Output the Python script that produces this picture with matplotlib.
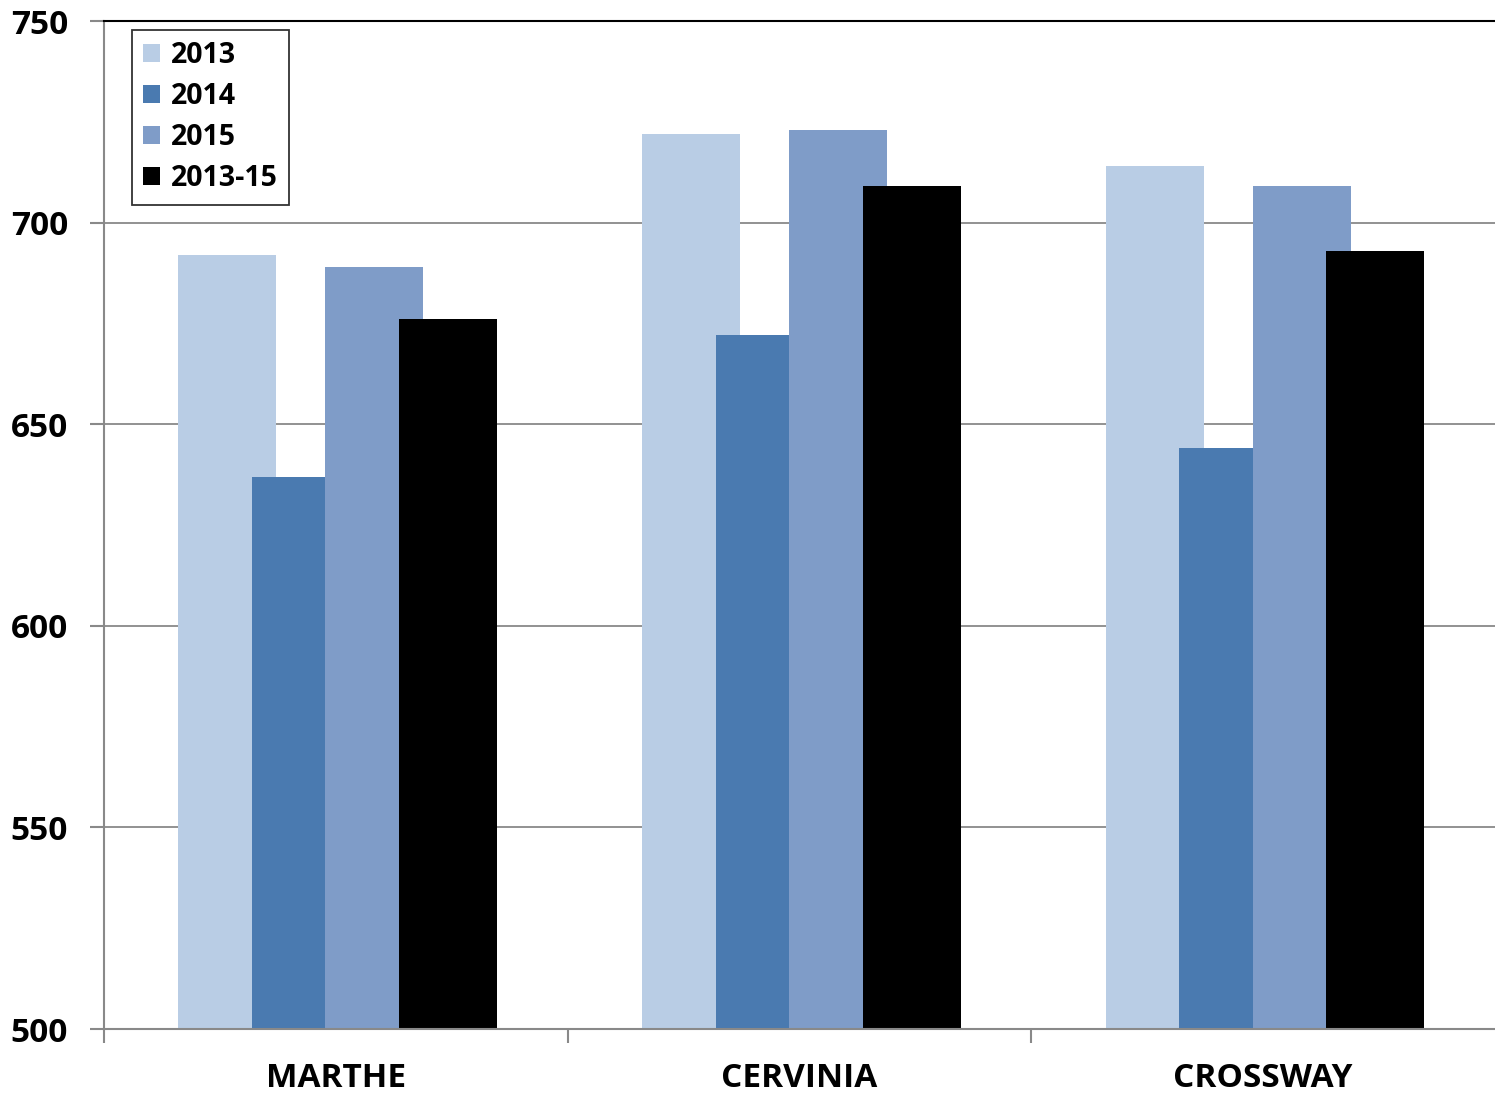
import matplotlib.pyplot as plt
import numpy as np

plt.rcParams['font.family'] = ['Open Sans', 'DejaVu Sans']
plt.rcParams['font.weight'] = 'bold'

# data
sites = ['MARTHE', 'CERVINIA', 'CROSSWAY']
series = ['2013', '2014', '2015', '2013-15']
v2013 = [692, 722, 714]
v2014 = [637, 672, 644]
v2015 = [689, 723, 709]
v2013_15 = [676, 709, 693]
values = [v2013, v2014, v2015, v2013_15]
colors = ['#B9CDE5', '#4A7AB0', '#7F9CC8', '#000000']

fig = plt.figure(figsize=(14.95, 10.93), dpi=100)
ax = fig.add_axes([104/1495, 1 - 1029/1093, 1391/1495, 1008/1093])

x = np.arange(len(sites))
step = 0.1587
width = 0.2113
for j, (vals, c, name) in enumerate(zip(values, colors, series)):
    ax.bar(x + (j - 1.5) * step + 0.004, np.array(vals) - 500, bottom=500, width=width,
           color=c, label=name, zorder=2, linewidth=0)

ax.set_xlim(-0.5, 2.5)
ax.set_ylim(500, 750)
ax.set_yticks([500, 550, 600, 650, 700, 750])
ax.set_yticklabels(['500', '550', '600', '650', '700', '750'], fontweight='bold')
ax.tick_params(axis='y', labelsize=24, length=10, width=1.5, color='#898989', pad=16)
ax.grid(axis='y', color='#898989', linewidth=1.3, zorder=0)

ax.set_xticks([-0.5, 0.5, 1.5])
ax.set_xticklabels([])
ax.set_xticks(x, minor=True)
ax.set_xticklabels(sites, minor=True, fontweight='bold')
ax.tick_params(axis='x', which='major', length=10, width=1.5, color='#898989')
ax.tick_params(axis='x', which='minor', length=0, labelsize=24, pad=24)

for s in ['left', 'bottom']:
    ax.spines[s].set_color('#898989')
    ax.spines[s].set_linewidth(1.5)
ax.spines['right'].set_visible(False)
ax.spines['top'].set_color('black')
ax.spines['top'].set_linewidth(1.5)

leg = ax.legend(loc='upper left', bbox_to_anchor=(28/1391, 1 - 9/1008), borderaxespad=0,
                prop={'size': 20.5, 'weight': 'bold'}, fancybox=False, frameon=True,
                edgecolor='black', handlelength=0.6, handleheight=0.6, handletextpad=0.35,
                labelspacing=0.42, borderpad=0.4)
leg.get_frame().set_linewidth(1.3)

plt.savefig('out.png', dpi=100)
